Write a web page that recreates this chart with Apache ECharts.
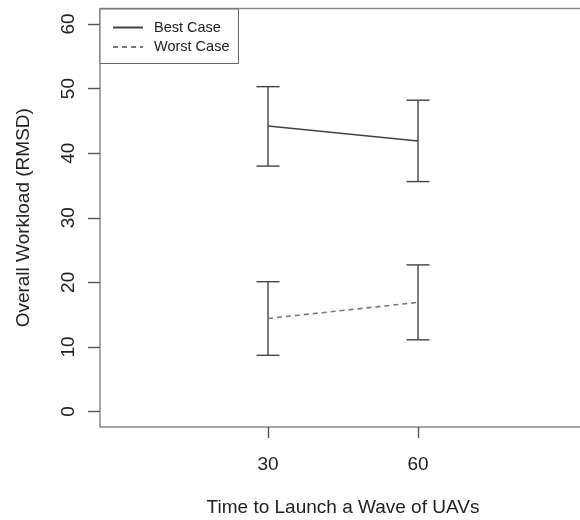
<!DOCTYPE html>
<html>
<head>
<meta charset="utf-8">
<script src="https://cdn.jsdelivr.net/npm/echarts@6/dist/echarts.min.js"></script>
<style>
html,body{margin:0;padding:0;background:#fff;}
#chart{width:580px;height:520px;}
</style>
</head>
<body>
<div id="chart"></div>
<script>
// ---- data ----
const xValues = [30, 60];
const bestMean = [44.2, 41.9];
const bestLow = [38.0, 35.6];
const bestHigh = [50.3, 48.2];
const worstMean = [14.4, 16.9];
const worstLow = [8.7, 11.1];
const worstHigh = [20.1, 22.7];
const xTicks = [30, 60];
const yTicks = [0, 10, 20, 30, 40, 50, 60];
const seriesNames = ['Best Case', 'Worst Case'];

const FONT = '"Liberation Sans", Arial, Helvetica, sans-serif';
const INK = '#444';

function pairs(xs, ys) { return xs.map((x, i) => [x, ys[i]]); }
function bars(xs, lo, hi) { return xs.map((x, i) => [x, lo[i], hi[i]]); }

function errorBar(params, api) {
  const x = api.value(0), lo = api.value(1), hi = api.value(2);
  const a = api.coord([x, lo]);
  const b = api.coord([x, hi]);
  const w = 11.5;
  const st = { stroke: INK, lineWidth: 1.4 };
  return {
    type: 'group',
    children: [
      { type: 'line', shape: { x1: a[0], y1: a[1], x2: b[0], y2: b[1] }, style: st },
      { type: 'line', shape: { x1: a[0] - w, y1: a[1], x2: a[0] + w, y2: a[1] }, style: st },
      { type: 'line', shape: { x1: b[0] - w, y1: b[1], x2: b[0] + w, y2: b[1] }, style: st }
    ]
  };
}

const chart = echarts.init(document.getElementById('chart'), null, { renderer: 'canvas' });
chart.setOption({
  animation: false,
  backgroundColor: '#fff',
  textStyle: { fontFamily: FONT },
  grid: {
    left: 100, top: 8.5, width: 486, height: 418.5,
    containLabel: false, outerBoundsMode: 'none',
    show: true, borderColor: '#8a8a8a', borderWidth: 1.5, backgroundColor: 'transparent'
  },
  legend: {
    data: seriesNames,
    orient: 'vertical',
    left: 100, top: 9,
    borderColor: '#666', borderWidth: 1,
    padding: [11, 9, 9, 12],
    itemWidth: 30, itemHeight: 14, itemGap: 4.5,
    itemStyle: { opacity: 0 },
    textStyle: { fontSize: 14.5, color: '#222', fontFamily: FONT, lineHeight: 14, padding: [0, 0, 0, 6] },
    backgroundColor: '#fff'
  },
  xAxis: {
    type: 'value', min: -3.6, max: 93.6,
    name: 'Time to Launch a Wave of UAVs',
    nameLocation: 'middle', nameGap: 71, nameMoveOverlap: false,
    nameTextStyle: { fontSize: 19, color: '#222', fontFamily: FONT },
    axisLine: { show: false, onZero: false },
    splitLine: { show: false },
    axisTick: { show: true, customValues: xTicks, length: 11, lineStyle: { color: '#555', width: 1.4 } },
    axisLabel: { customValues: xTicks, margin: 28, fontSize: 19, color: '#222', fontFamily: FONT }
  },
  yAxis: {
    type: 'value', min: -2.4, max: 62.4,
    name: 'Overall Workload (RMSD)',
    nameLocation: 'middle', nameGap: 67, nameRotate: 90, nameMoveOverlap: false,
    nameTextStyle: { fontSize: 19, color: '#222', fontFamily: FONT },
    axisLine: { show: false, onZero: false },
    splitLine: { show: false },
    axisTick: { show: true, customValues: yTicks, length: 12, lineStyle: { color: '#555', width: 1.4 } },
    axisLabel: { customValues: yTicks, rotate: 90, margin: 22, fontSize: 19, color: '#222', fontFamily: FONT }
  },
  series: [
    {
      name: seriesNames[0], type: 'line', data: pairs(xValues, bestMean),
      symbol: 'none', lineStyle: { color: INK, width: 1.5, type: 'solid' }, itemStyle: { color: INK }
    },
    {
      name: seriesNames[1], type: 'line', data: pairs(xValues, worstMean),
      symbol: 'none', lineStyle: { color: '#777', width: 1.6, type: [5, 4] }, itemStyle: { color: '#777' }
    },
    {
      name: 'bestErr', type: 'custom', renderItem: errorBar,
      encode: { x: 0, y: [1, 2] }, data: bars(xValues, bestLow, bestHigh), z: 3
    },
    {
      name: 'worstErr', type: 'custom', renderItem: errorBar,
      encode: { x: 0, y: [1, 2] }, data: bars(xValues, worstLow, worstHigh), z: 3
    }
  ]
});
</script>
</body>
</html>
